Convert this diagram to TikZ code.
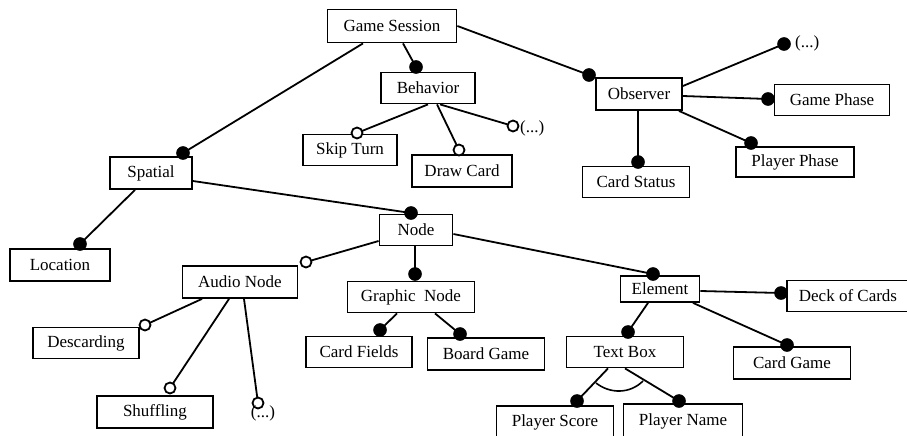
\documentclass[tikz,border=0pt]{standalone}
\usepackage{fontspec}
\setmainfont{Liberation Serif}
\begin{document}
\begin{tikzpicture}[x=1pt,y=-1pt,
  box/.style={draw,line width=1.8pt,inner sep=0pt,font=\fontsize{17}{20}\selectfont},
  conn/.style={line width=1.8pt},
  mand/.style={circle,fill=black,draw=black,line width=0.5pt,minimum size=13pt,inner sep=0pt},
  opt/.style={circle,fill=white,draw=black,line width=1.8pt,minimum size=11pt,inner sep=0pt},
  lbl/.style={inner sep=0pt,font=\fontsize{17}{20}\selectfont}]
\useasboundingbox (0,0) rectangle (907,436);
% boxes
\node[box,minimum width=129,minimum height=33] (gs) at (392,26) {Game Session};
\node[box,minimum width=94,minimum height=31] (beh) at (428,88) {Behavior};
\node[box,minimum width=94,minimum height=31] (skip) at (350,150) {Skip Turn};
\node[box,minimum width=100,minimum height=32] (draw) at (462,171) {Draw Card};
\node[box,minimum width=86,minimum height=32] (obs) at (639,94) {Observer};
\node[box,minimum width=115,minimum height=31] (gp) at (832,100) {Game Phase};
\node[box,minimum width=118,minimum height=30] (pp) at (795,162) {Player Phase};
\node[box,minimum width=107,minimum height=31] (cs) at (636,182) {Card Status};
\node[box,minimum width=82,minimum height=32] (sp) at (151,173) {Spatial};
\node[box,minimum width=100,minimum height=32] (loc) at (60,265) {Location};
\node[box,minimum width=73,minimum height=31] (node) at (416,230) {Node};
\node[box,minimum width=115,minimum height=32] (audio) at (240,282) {Audio Node};
\node[box,minimum width=127,minimum height=31] (graph) at (411,297) {Graphic\ \ Node};
\node[box,minimum width=106,minimum height=31] (cf) at (359,352) {Card Fields};
\node[box,minimum width=117,minimum height=32] (bg) at (486,354) {Board Game};
\node[box,minimum width=106,minimum height=31] (desc) at (86,343) {Descarding};
\node[box,minimum width=116,minimum height=32] (shuf) at (155,412) {Shuffling};
\node[box,minimum width=79,minimum height=26] (el) at (660,289) {Element};
\node[box,minimum width=122,minimum height=31] (deck) at (848,296) {Deck of Cards};
\node[box,minimum width=117,minimum height=31] (tb) at (625,352) {Text Box};
\node[box,minimum width=117,minimum height=32] (cg) at (792,363) {Card Game};
\node[box,minimum width=117,minimum height=34,anchor=north] (ps) at (555,405) {Player Score};
\node[box,minimum width=119,minimum height=36,anchor=north] (pn) at (683,403) {Player Name};
% connectors
\draw[conn] ([xshift=-29pt]gs.south) -- (183,153) coordinate (e1);
\draw[conn] ([xshift=11pt]gs.south) -- (416,67) coordinate (e2);
\draw[conn] (gs.east) -- (589,75) coordinate (e3);
\draw[conn] (beh.south) -- (357,133) coordinate (e4);
\draw[conn] ([xshift=9pt]beh.south) -- (459,150) coordinate (e5);
\draw[conn] ([xshift=12pt]beh.south) -- (513,126) coordinate (e6);
\draw[conn] ([yshift=8pt]obs.east) -- (784,44) coordinate (e7);
\draw[conn] ([yshift=-2pt]obs.east) -- (768,99) coordinate (e8);
\draw[conn] ([xshift=-4pt]obs.south east) -- (751,143) coordinate (e9);
\draw[conn] ([xshift=-1pt]obs.south) -- (638,162) coordinate (e10);
\draw[conn] ([xshift=-16pt]sp.south) -- (80,244) coordinate (e11);
\draw[conn] ([yshift=-8pt]sp.east) -- (411,213) coordinate (e12);
\draw[conn] ([yshift=-11pt]node.west) -- (306,262) coordinate (e13);
\draw[conn] ([xshift=-1pt]node.south) -- (415,274) coordinate (e14);
\draw[conn] ([xshift=-14pt]graph.south) -- (380,330) coordinate (e15);
\draw[conn] ([xshift=24pt]graph.south) -- (460,334) coordinate (e16);
\draw[conn] ([xshift=-38pt]audio.south) -- (145,325) coordinate (e17);
\draw[conn] ([xshift=-11pt]audio.south) -- (170,388) coordinate (e18);
\draw[conn] ([xshift=4pt]audio.south) -- (258,403) coordinate (e19);
\draw[conn] ([yshift=-4pt]node.east) -- (653,274) coordinate (e20);
\draw[conn] ([yshift=-2pt]el.east) -- (781,293) coordinate (e21);
\draw[conn] ([xshift=-12pt]el.south) -- (628,332) coordinate (e22);
\draw[conn] ([xshift=33pt]el.south) -- (787,345) coordinate (e23);
\draw[conn] ([xshift=-17pt]tb.south) -- (577,401) coordinate (e24);
\draw[conn] (tb.south) -- (679,401) coordinate (e25);
\draw[line width=1.6pt] (596,383) .. controls (610,394) and (630,394) .. (643,381);
% end marks
\node[mand] (m1) at (e1) {};
\node[mand] (m2) at (e2) {};
\node[mand] (m3) at (e3) {};
\node[opt] (o4) at (e4) {};
\node[opt] (o5) at (e5) {};
\node[opt] (o6) at (e6) {};
\node[mand] (m7) at (e7) {};
\node[mand] (m8) at (e8) {};
\node[mand] (m9) at (e9) {};
\node[mand] (m10) at (e10) {};
\node[mand] (m11) at (e11) {};
\node[mand] (m12) at (e12) {};
\node[opt] (o13) at (e13) {};
\node[mand] (m14) at (e14) {};
\node[mand] (m15) at (e15) {};
\node[mand] (m16) at (e16) {};
\node[opt] (o17) at (e17) {};
\node[opt] (o18) at (e18) {};
\node[opt] (o19) at (e19) {};
\node[mand] (m20) at (e20) {};
\node[mand] (m21) at (e21) {};
\node[mand] (m22) at (e22) {};
\node[mand] (m23) at (e23) {};
\node[mand] (m24) at (e24) {};
\node[mand] (m25) at (e25) {};
% ellipsis labels
\node[lbl,anchor=west] (t6) at (520,128) {(...)};
\node[lbl,anchor=west] (t7) at (795,43) {(...)};
\node[lbl] (t19) at (263,413) {(...)};
\end{tikzpicture}
\end{document}
